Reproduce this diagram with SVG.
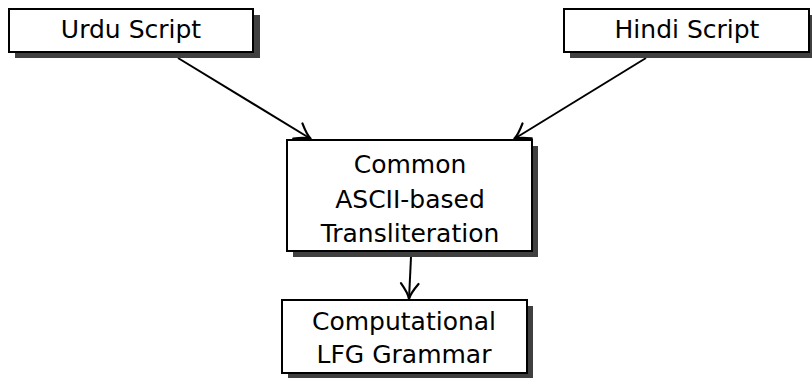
<svg xmlns="http://www.w3.org/2000/svg" width="812" height="378" viewBox="0 0 812 378">
<style>
.shadow{fill:#404040;stroke:none}
.box{fill:#fff;stroke:#000;stroke-width:2}
.lbl{font-family:"DejaVu Sans","Liberation Sans",sans-serif;font-size:25px;fill:#000;text-anchor:middle}
.edge{stroke:#000;stroke-width:2;fill:none}
</style>
<defs>
<marker id="arr" markerUnits="userSpaceOnUse" markerWidth="22" markerHeight="22" viewBox="-16 -10 18 20" refX="0" refY="0" orient="auto">
<path d="M -14 -8 Q -5 -1 0 0 Q -5 1 -14 8" fill="none" stroke="#000" stroke-width="2" stroke-linecap="round"/>
</marker>
</defs>
<rect width="812" height="378" fill="#fff"/>
<g id="edges">
<line class="edge" x1="178" y1="58" x2="311" y2="139" marker-end="url(#arr)"/>
<line class="edge" x1="646" y1="58" x2="514" y2="139" marker-end="url(#arr)"/>
<line class="edge" x1="411" y1="257" x2="409" y2="299" marker-end="url(#arr)"/>
</g>
<g id="urdu">
<rect class="shadow" x="15" y="15" width="245" height="43"/>
<rect class="box" x="9" y="9" width="244" height="43"/>
<text class="lbl" x="131" y="38">Urdu Script</text>
</g>
<g id="hindi">
<rect class="shadow" x="570" y="15" width="245" height="43"/>
<rect class="box" x="564" y="9" width="245" height="43"/>
<text class="lbl" x="687" y="38">Hindi Script</text>
</g>
<g id="translit">
<rect class="shadow" x="293" y="146" width="245" height="111"/>
<rect class="box" x="287" y="140" width="245" height="111"/>
<text class="lbl" x="410" y="173">Common</text>
<text class="lbl" x="410" y="207.5">ASCII-based</text>
<text class="lbl" x="410" y="242">Transliteration</text>
</g>
<g id="lfg">
<rect class="shadow" x="288" y="306" width="245" height="73"/>
<rect class="box" x="282" y="300" width="245" height="73"/>
<text class="lbl" x="404" y="330">Computational</text>
<text class="lbl" x="404" y="363">LFG Grammar</text>
</g>
</svg>
